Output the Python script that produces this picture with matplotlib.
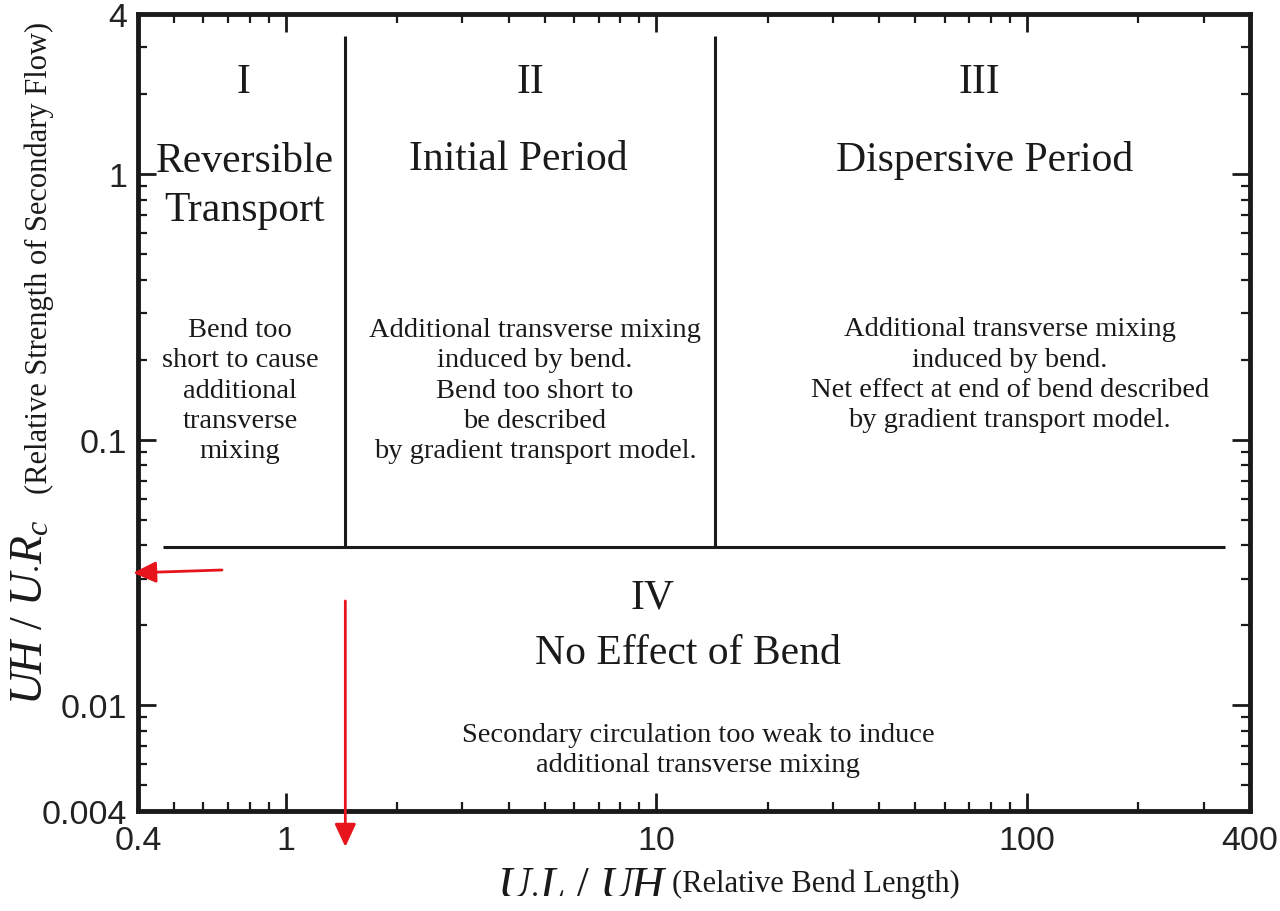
import matplotlib
matplotlib.use("Agg")
import matplotlib.pyplot as plt
from matplotlib.ticker import FixedLocator, FixedFormatter, LogLocator, NullFormatter

# ---- data ----
x_limits = [0.4, 400]
y_limits = [0.004, 4]
x_tick_values = [0.4, 1, 10, 100, 400]
x_tick_labels = ["0.4", "1", "10", "100", "400"]
y_tick_values = [0.004, 0.01, 0.1, 1, 4]
y_tick_labels = ["0.004", "0.01", "0.1", "1", "4"]

boundary_x = [1.45, 14.4]          # vertical region boundaries
boundary_y_range = [0.0393, 3.3]   # vertical extent of those boundaries
threshold_y = 0.0393               # horizontal boundary (region IV)
threshold_x_range = [0.467, 342]

arrow_h_tail = (0.674, 0.0323)
arrow_h_head = (0.388, 0.0315)
arrow_v_tail = (1.45, 0.0247)
arrow_v_head = (1.45, 0.00293)

roman_labels = ["I", "II", "III", "IV"]
region_titles = ["Reversible\nTransport", "Initial Period", "Dispersive Period",
                 "No Effect of Bend"]
region_notes = [
    "Bend too\nshort to cause\nadditional\ntransverse\nmixing",
    "Additional transverse mixing\ninduced by bend.\nBend too short to\nbe described\nby gradient transport model.",
    "Additional transverse mixing\ninduced by bend.\nNet effect at end of bend described\nby gradient transport model.",
    "Secondary circulation too weak to induce\nadditional transverse mixing",
]

# ---- style ----
plt.rcParams["mathtext.fontset"] = "custom"
plt.rcParams["mathtext.rm"] = "Liberation Serif"
plt.rcParams["mathtext.it"] = "Liberation Serif:italic"
plt.rcParams["mathtext.bf"] = "Liberation Serif:bold"

ink = "#1a1a1a"
red = "#e8141b"
serif = ["Liberation Serif", "DejaVu Serif"]

fig = plt.figure(figsize=(12.8, 9.12), dpi=100)
ax = fig.add_axes([138 / 1280, 1 - 812 / 912, 1112 / 1280, 797 / 912])
ax.set_xscale("log")
ax.set_yscale("log")
ax.set_xlim(*x_limits)
ax.set_ylim(*y_limits)

for s in ax.spines.values():
    s.set_linewidth(3.5)
    s.set_color(ink)

ax.xaxis.set_major_locator(FixedLocator(x_tick_values))
ax.xaxis.set_major_formatter(FixedFormatter(x_tick_labels))
ax.yaxis.set_major_locator(FixedLocator(y_tick_values))
ax.yaxis.set_major_formatter(FixedFormatter(y_tick_labels))
ax.xaxis.set_minor_locator(LogLocator(base=10, subs=range(2, 10)))
ax.yaxis.set_minor_locator(LogLocator(base=10, subs=range(2, 10)))
ax.xaxis.set_minor_formatter(NullFormatter())
ax.yaxis.set_minor_formatter(NullFormatter())
ax.tick_params(which="both", direction="in", top=True, right=True, colors=ink)
ax.tick_params(which="major", length=13, width=2, labelsize=24.5)
ax.tick_params(axis="y", which="major", pad=8)
ax.tick_params(axis="x", which="major", pad=10)
ax.tick_params(which="minor", length=6.5, width=1.6)
for lab in ax.get_xticklabels() + ax.get_yticklabels():
    lab.set_family(["Liberation Sans", "DejaVu Sans"])
    lab.set_color("#222222")

# ---- region boundaries ----
for bx in boundary_x:
    ax.plot([bx, bx], boundary_y_range, color=ink, lw=2.2, solid_capstyle="butt")
ax.plot(threshold_x_range, [threshold_y, threshold_y], color=ink, lw=2.2,
        solid_capstyle="butt")

# ---- red arrows ----
for tail, head in [(arrow_h_tail, arrow_h_head), (arrow_v_tail, arrow_v_head)]:
    ax.annotate("", xy=head, xytext=tail, annotation_clip=False,
                arrowprops=dict(arrowstyle="-|>,head_length=14,head_width=6.5",
                                mutation_scale=1, color=red, lw=2,
                                shrinkA=0, shrinkB=0, clip_on=False))

# ---- text in regions ----
big = 30
small = 20.5
tkw = dict(transform=ax.transAxes, ha="center", va="center", family=serif, color=ink)
ax.text(0.0944, 0.915, roman_labels[0], fontsize=big, **tkw)
ax.text(0.3525, 0.915, roman_labels[1], fontsize=big, **tkw)
ax.text(0.757, 0.915, roman_labels[2], fontsize=big, **tkw)
ax.text(0.463, 0.2685, roman_labels[3], fontsize=big, **tkw)

ax.text(0.0962, 0.785, region_titles[0], fontsize=big, linespacing=1.38, **tkw)
ax.text(0.3417, 0.818, region_titles[1], fontsize=big, **tkw)
ax.text(0.7617, 0.818, region_titles[2], fontsize=big, **tkw)
ax.text(0.4946, 0.198, region_titles[3], fontsize=big, **tkw)

ax.text(0.0917, 0.528, region_notes[0], fontsize=small, linespacing=1.28, **tkw)
ax.text(0.357, 0.528, region_notes[1], fontsize=small, linespacing=1.28, **tkw)
ax.text(0.784, 0.548, region_notes[2], fontsize=small, linespacing=1.28, **tkw)
ax.text(0.5036, 0.077, region_notes[3], fontsize=small, linespacing=1.28, **tkw)

# ---- axis labels ----
def fx(px):
    return px / 1280

def fy(py):
    return 1 - py / 912

fig.text(fx(497), fy(893), r"$U_{\bullet}L\ /\ UH$", fontsize=33, color=ink,
         ha="left", va="baseline")
fig.text(fx(672), fy(892), "(Relative Bend Length)", fontsize=22, color=ink,
         family=serif, ha="left", va="baseline")

fig.text(fx(43), fy(705), r"$UH\ /\ U_{\bullet}R_{c}$", fontsize=33, color=ink,
         rotation=90, rotation_mode="anchor", ha="left", va="baseline")
fig.text(fx(47), fy(494), "(Relative Strength of Secondary Flow)", fontsize=22,
         color=ink, family=serif, rotation=90, rotation_mode="anchor",
         ha="left", va="baseline")

fig.savefig("out.png", dpi=100)
